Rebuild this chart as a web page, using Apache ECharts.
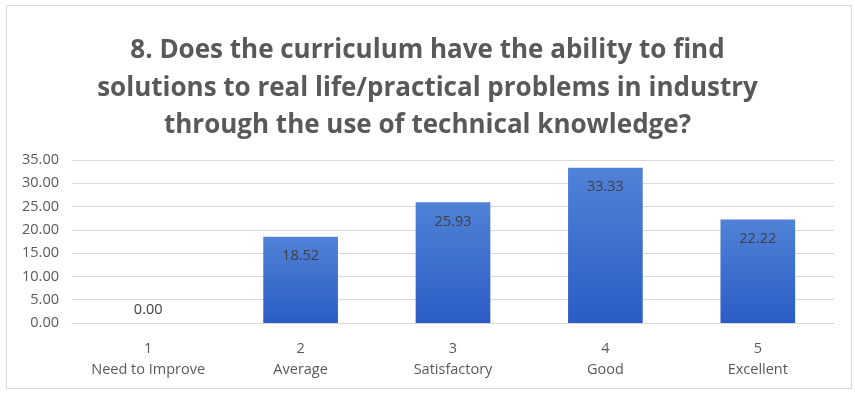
<!DOCTYPE html>
<html><head><meta charset="utf-8">
<script src="https://cdn.jsdelivr.net/npm/echarts@6/dist/echarts.min.js"></script>
<style>html,body{margin:0;padding:0;background:#fff}#c{width:855px;height:393px}</style>
</head><body><div id="c"></div>
<script>
const titleText = "8. Does the curriculum have the ability to find\nsolutions to real life/practical problems in industry\nthrough the use of technical knowledge?";
const categoryNumbers = ["1","2","3","4","5"];
const categoryNames = ["Need to Improve","Average","Satisfactory","Good","Excellent"];
const values = [0.00, 18.52, 25.93, 33.33, 22.22];
const yTicks = {min:0, max:35, interval:5};

const chart = echarts.init(document.getElementById('c'));
const font = '"Open Sans", Lato, sans-serif';
chart.setOption({
  animation:false,
  graphic:[{type:'rect', shape:{x:6.5,y:5.5,width:845,height:383}, style:{fill:'none', stroke:'#d9d9d9', lineWidth:1}, silent:true}],
  title:{text:titleText, left:'center', top:27, textStyle:{fontFamily:font, fontWeight:'bold', fontSize:26, color:'#595959', lineHeight:37.5}},
  grid:{left:72, right:21, top:160, bottom:70},
  xAxis:{type:'category', data:categoryNumbers.map((n,i)=>n+'\n'+categoryNames[i]),
    axisLine:{lineStyle:{color:'#d9d9d9'}}, axisTick:{show:false},
    axisLabel:{fontFamily:font, fontSize:14.5, color:'#595959', lineHeight:21, margin:15}},
  yAxis:{type:'value', min:yTicks.min, max:yTicks.max, interval:yTicks.interval,
    axisLine:{show:false}, axisTick:{show:false},
    splitLine:{lineStyle:{color:'#d9d9d9'}},
    axisLabel:{fontFamily:font, fontSize:14.5, color:'#595959', margin:13, formatter:v=>v.toFixed(2)}},
  series:[{type:'bar', barWidth:'49%',
    data:values.map(v=>({value:v, label: v===0 ? {position:'top', distance:6} : {position:'insideTop', distance:12}})),
    itemStyle:{color:new echarts.graphic.LinearGradient(0,0,0,1,[{offset:0,color:'#5082d8'},{offset:1,color:'#2b5cc4'}])},
    label:{show:true, fontFamily:font, fontSize:14.5, color:'#404040', formatter:p=>p.value.toFixed(2)}
  }]
});
</script></body></html>
